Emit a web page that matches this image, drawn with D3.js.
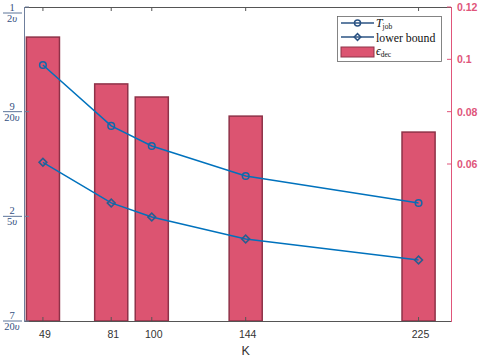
<!DOCTYPE html>
<html><head><meta charset="utf-8">
<script src="https://cdn.jsdelivr.net/npm/d3@7"></script>
<style>body{margin:0;background:#fff}svg{display:block}</style>
</head><body><svg id="c" width="485" height="359"></svg>
<script>
const K = [49, 81, 100, 144, 225];
const tjob = [0.4723, 0.4432, 0.4336, 0.4193, 0.4064];
const lowerBound = [0.4258, 0.4064, 0.3997, 0.3892, 0.3791];
const epsDec = [0.1085, 0.0906, 0.0856, 0.0783, 0.0722];
const leftTicks = [0.35, 0.40, 0.45, 0.50];
const leftTickLabels = [["7","20"],["2","5"],["9","20"],["1","2"]];
const rightTicks = [0.06, 0.08, 0.1, 0.12];
const rightTickLabels = ["0.06","0.08","0.1","0.12"];

const svg = d3.select("#c");
const L = 25, R = 451, T = 7, B = 321;
const x = d3.scaleLinear().domain([40.6, 240.2]).range([L, R]);
const yL = d3.scaleLinear().domain([0.35, 0.5]).range([B, T]);
const yR = d3.scaleLinear().domain([0, 0.12]).range([B, T]);
const barW = x(49 + 15.5) - x(49);

// bars
svg.append("g").selectAll("rect").data(K).join("rect")
  .attr("x", (d) => x(d) - barW / 2)
  .attr("y", (d, i) => yR(epsDec[i]))
  .attr("width", barW)
  .attr("height", (d, i) => B - yR(epsDec[i]))
  .attr("fill", "#dc5471").attr("stroke", "#8e3248").attr("stroke-width", 1.5);

// box top and bottom
svg.append("line").attr("x1", L).attr("x2", R).attr("y1", T + 0.5).attr("y2", T + 0.5).attr("stroke", "#555").attr("stroke-width", 1);
svg.append("line").attr("x1", L).attr("x2", R).attr("y1", B + 0.5).attr("y2", B + 0.5).attr("stroke", "#555").attr("stroke-width", 1);

// x ticks (bottom, inside) and top ticks
K.forEach((k) => {
  svg.append("line").attr("x1", x(k)).attr("x2", x(k)).attr("y1", B).attr("y2", B - 4).attr("stroke", "#555");
  svg.append("line").attr("x1", x(k)).attr("x2", x(k)).attr("y1", T).attr("y2", T + 4).attr("stroke", "#555");
});
svg.append("g").selectAll("text").data(K).join("text")
  .attr("x", (d) => x(d) + 2).attr("y", B + 17)
  .attr("text-anchor", "middle").attr("font-family", "Liberation Sans, Arial, sans-serif")
  .attr("font-size", 10.5).attr("fill", "#333").text((d) => d);
svg.append("text").attr("x", x(144)).attr("y", 355).attr("text-anchor", "middle")
  .attr("font-family", "Liberation Sans, Arial, sans-serif").attr("font-size", 12.5).attr("fill", "#333").text("K");

// left axis
const leftCol = "#6f7f9c";
svg.append("line").attr("x1", L - 0.5).attr("x2", L - 0.5).attr("y1", T).attr("y2", B + 1).attr("stroke", leftCol).attr("stroke-width", 1);
leftTicks.forEach((t, i) => {
  const yy = yL(t);
  svg.append("line").attr("x1", L).attr("x2", L + 4).attr("y1", yy).attr("y2", yy).attr("stroke", leftCol);
  const cy = (i === 3) ? yy + 6 : yy;
  const g = svg.append("g").attr("font-family", "Liberation Serif, Times New Roman, serif").attr("fill", "#34507f").attr("font-size", 10.5).attr("text-anchor", "middle");
  const cx = 12;
  g.append("line").attr("x1", 3).attr("x2", 22).attr("y1", cy).attr("y2", cy).attr("stroke", "#34507f").attr("stroke-width", 0.8);
  g.append("text").attr("x", cx).attr("y", cy - 2).text(leftTickLabels[i][0]);
  const tx = g.append("text").attr("x", cx).attr("y", cy + 9);
  tx.append("tspan").text(leftTickLabels[i][1]);
  tx.append("tspan").attr("font-style", "italic").text("υ");
});

// right axis
const rightCol = "#e0557a";
svg.append("line").attr("x1", R + 0.5).attr("x2", R + 0.5).attr("y1", T).attr("y2", B + 1).attr("stroke", rightCol).attr("stroke-width", 1);
rightTicks.forEach((t, i) => {
  svg.append("line").attr("x1", R).attr("x2", R - 4).attr("y1", yR(t)).attr("y2", yR(t)).attr("stroke", rightCol);
  svg.append("text").attr("x", R + 6).attr("y", yR(t) + 4).attr("font-family", "Liberation Sans, Arial, sans-serif")
    .attr("font-weight", "bold").attr("font-size", 10.5).attr("fill", rightCol).text(rightTickLabels[i]);
});

// lines
const lineCol = "#0072bd";
const line = d3.line().x((d) => x(d[0])).y((d) => yL(d[1]));
const tPts = K.map((k, i) => [k, tjob[i]]);
const lPts = K.map((k, i) => [k, lowerBound[i]]);
svg.append("path").attr("d", line(tPts)).attr("fill", "none").attr("stroke", lineCol).attr("stroke-width", 1.5);
svg.append("path").attr("d", line(lPts)).attr("fill", "none").attr("stroke", lineCol).attr("stroke-width", 1.5);
svg.append("g").selectAll("circle").data(tPts).join("circle")
  .attr("cx", (d) => x(d[0])).attr("cy", (d) => yL(d[1])).attr("r", 3.3)
  .attr("fill", "none").attr("stroke", "#1367a8").attr("stroke-width", 1.5);
const dia = d3.symbol().type(d3.symbolSquare).size(30);
svg.append("g").selectAll("path").data(lPts).join("path")
  .attr("d", dia).attr("transform", (d) => `translate(${x(d[0])},${yL(d[1])}) rotate(45)`)
  .attr("fill", "none").attr("stroke", "#2a5d8f").attr("stroke-width", 1.6);

// legend
const lg = svg.append("g");
lg.append("rect").attr("x", 337.5).attr("y", 16.5).attr("width", 104).attr("height", 45).attr("fill", "#fff").attr("stroke", "#666").attr("stroke-width", 0.8);
const legCol = "#2b5383";
[23, 37].forEach((yy, i) => {
  lg.append("line").attr("x1", 341).attr("x2", 374).attr("y1", yy).attr("y2", yy).attr("stroke", legCol).attr("stroke-width", 1.5);
  if (i === 0) lg.append("circle").attr("cx", 357.5).attr("cy", yy).attr("r", 3).attr("fill", "none").attr("stroke", legCol).attr("stroke-width", 1.5);
  else lg.append("path").attr("d", d3.symbol().type(d3.symbolSquare).size(22)).attr("transform", `translate(357.5,${yy}) rotate(45)`).attr("fill", "none").attr("stroke", legCol).attr("stroke-width", 1.5);
});
const t1 = lg.append("text").attr("x", 376).attr("y", 26.5).attr("font-family", "Liberation Serif, Times New Roman, serif").attr("font-size", 11.8).attr("fill", "#111");
t1.append("tspan").attr("font-style", "italic").text("T");
t1.append("tspan").attr("font-size", 7.5).attr("dy", 2).text("job");
lg.append("text").attr("x", 376).attr("y", 41.5).attr("font-family", "Liberation Serif, Times New Roman, serif").attr("font-size", 11.8).attr("fill", "#111").text("lower bound");
lg.append("rect").attr("x", 341).attr("y", 47).attr("width", 33).attr("height", 10).attr("fill", "#dc5471").attr("stroke", "#8e3248").attr("stroke-width", 1);
const t3 = lg.append("text").attr("x", 376).attr("y", 54.5).attr("font-family", "Liberation Serif, Times New Roman, serif").attr("font-size", 11.8).attr("fill", "#111");
t3.append("tspan").attr("font-style", "italic").text("ϵ");
t3.append("tspan").attr("font-size", 7.5).attr("dy", 2).text("dec");
</script></body></html>
